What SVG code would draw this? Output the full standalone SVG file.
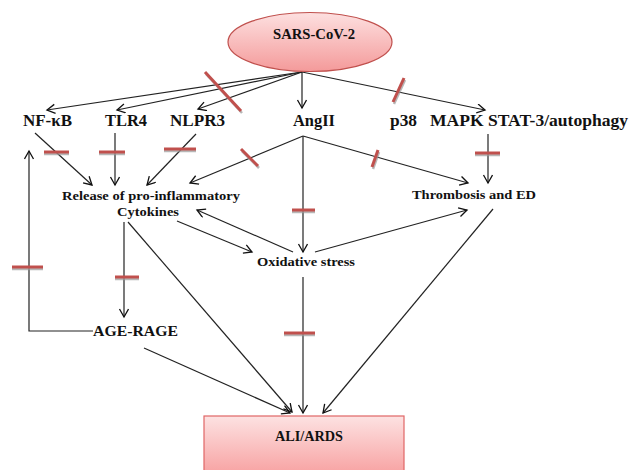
<svg xmlns="http://www.w3.org/2000/svg" width="632" height="470" viewBox="0 0 632 470">
<defs>
<linearGradient id="gE" x1="0" y1="0" x2="0" y2="1">
<stop offset="0" stop-color="#fde0e0"/><stop offset="1" stop-color="#f49a9a"/>
</linearGradient>
<linearGradient id="gB" x1="0" y1="0" x2="0" y2="1">
<stop offset="0" stop-color="#fde2e2"/><stop offset="1" stop-color="#f7a0a0"/>
</linearGradient>
<marker id="ar" markerUnits="userSpaceOnUse" markerWidth="12" markerHeight="12" refX="9" refY="5" orient="auto" viewBox="0 0 12 12">
<path d="M1,0.5 L9,5 L1,9.5" fill="none" stroke="#111" stroke-width="1.3"/>
</marker>
</defs>
<style>
text{font-family:"Liberation Serif","Times New Roman",serif;font-weight:bold;fill:#111}
.l1{font-size:16.5px}
.l2{font-size:13px}
.c{stroke:#222;stroke-width:1.2;fill:none}
.a{marker-end:url(#ar)}
.sh{stroke:#9a9a9a;stroke-width:2.5;opacity:0.7}
.rb{stroke:#c0504d;stroke-width:3}
</style>
<rect width="632" height="470" fill="#fff"/>

<g id="connectors">
<line class="c a" x1="302" y1="72" x2="47" y2="110"/>
<line class="c a" x1="302" y1="72" x2="117" y2="110"/>
<line class="c a" x1="302" y1="72" x2="198" y2="109"/>
<line class="c a" x1="302" y1="72" x2="302" y2="108"/>
<line class="c a" x1="302" y1="72" x2="485" y2="110"/>
<line class="c a" x1="35" y1="133" x2="92" y2="185"/>
<line class="c a" x1="115" y1="133" x2="115" y2="185"/>
<line class="c a" x1="196" y1="134" x2="147" y2="185"/>
<line class="c a" x1="303" y1="136" x2="190" y2="183"/>
<line class="c a" x1="303" y1="136" x2="468" y2="183"/>
<line class="c a" x1="303" y1="136" x2="303" y2="252"/>
<line class="c a" x1="488" y1="134" x2="488" y2="183"/>
<line class="c a" x1="177" y1="221" x2="252" y2="252"/>
<line class="c a" x1="293" y1="252" x2="197" y2="210"/>
<line class="c a" x1="315" y1="252" x2="467" y2="210"/>
<line class="c a" x1="124" y1="222" x2="124" y2="317"/>
<polyline class="c a" points="93,331 29,331 29,151"/>
<line class="c a" x1="128" y1="222" x2="292" y2="412"/>
<line class="c a" x1="144" y1="348" x2="290" y2="413"/>
<line class="c a" x1="303" y1="277" x2="303" y2="413"/>
<line class="c a" x1="493" y1="209" x2="323" y2="413"/>
</g>

<g id="inhibitors">
<line class="sh" x1="206" y1="74" x2="242" y2="113"/><line class="rb" x1="205" y1="72" x2="241" y2="111"/>
<line class="sh" x1="405" y1="80" x2="394" y2="104"/><line class="rb" x1="404" y1="78" x2="393" y2="102"/>
<line class="sh" x1="44" y1="154" x2="69" y2="154"/><line class="rb" x1="44" y1="152" x2="69" y2="152"/>
<line class="sh" x1="99" y1="154" x2="125" y2="154"/><line class="rb" x1="99" y1="152" x2="125" y2="152"/>
<line class="sh" x1="164" y1="151" x2="196" y2="151"/><line class="rb" x1="164" y1="149" x2="196" y2="149"/>
<line class="sh" x1="242" y1="151" x2="259" y2="168"/><line class="rb" x1="241" y1="149" x2="258" y2="166"/>
<line class="sh" x1="379" y1="152" x2="373" y2="169"/><line class="rb" x1="378" y1="150" x2="372" y2="167"/>
<line class="sh" x1="292" y1="212" x2="315" y2="212"/><line class="rb" x1="292" y1="210" x2="315" y2="210"/>
<line class="sh" x1="475" y1="155" x2="500" y2="155"/><line class="rb" x1="475" y1="153" x2="500" y2="153"/>
<line class="sh" x1="115" y1="279" x2="139" y2="279"/><line class="rb" x1="115" y1="277" x2="139" y2="277"/>
<line class="sh" x1="12" y1="269" x2="43" y2="269"/><line class="rb" x1="12" y1="267" x2="43" y2="267"/>
<line class="sh" x1="284" y1="335" x2="315" y2="335"/><line class="rb" x1="284" y1="333" x2="315" y2="333"/>
</g>

<g id="sars">
<ellipse cx="310" cy="42" rx="82" ry="29.5" fill="url(#gE)" stroke="#c0504d" stroke-width="1.2"/>
<text x="273" y="39" font-size="14" textLength="82" lengthAdjust="spacingAndGlyphs">SARS-CoV-2</text>
</g>
<g id="nfkb"><text class="l1" x="23" y="126" textLength="49" lengthAdjust="spacingAndGlyphs">NF-κB</text></g>
<g id="tlr4"><text class="l1" x="105" y="126" textLength="42" lengthAdjust="spacingAndGlyphs">TLR4</text></g>
<g id="nlpr3"><text class="l1" x="170" y="126" textLength="55" lengthAdjust="spacingAndGlyphs">NLPR3</text></g>
<g id="angii"><text class="l1" x="293" y="126" textLength="42" lengthAdjust="spacingAndGlyphs">AngII</text></g>
<g id="p38"><text class="l1" x="390" y="126" textLength="27" lengthAdjust="spacingAndGlyphs">p38</text></g>
<g id="mapk"><text class="l1" x="430" y="126" textLength="198" lengthAdjust="spacingAndGlyphs">MAPK STAT-3/autophagy</text></g>
<g id="cytokines">
<text class="l2" x="62" y="200" textLength="178" lengthAdjust="spacingAndGlyphs">Release of pro-inflammatory</text>
<text class="l2" x="117" y="216" textLength="62" lengthAdjust="spacingAndGlyphs">Cytokines</text>
</g>
<g id="thrombosis"><text class="l2" x="412" y="199" textLength="124" lengthAdjust="spacingAndGlyphs">Thrombosis and ED</text></g>
<g id="oxidative"><text class="l2" x="257" y="266" textLength="98" lengthAdjust="spacingAndGlyphs">Oxidative stress</text></g>
<g id="agerage"><text x="93" y="336" font-size="15.5" textLength="85" lengthAdjust="spacingAndGlyphs">AGE-RAGE</text></g>
<g id="aliards">
<rect x="204" y="416" width="200" height="60" fill="url(#gB)" stroke="#e06666" stroke-width="1.2"/>
<text x="275" y="441" font-size="14" textLength="68" lengthAdjust="spacingAndGlyphs">ALI/ARDS</text>
</g>
</svg>
